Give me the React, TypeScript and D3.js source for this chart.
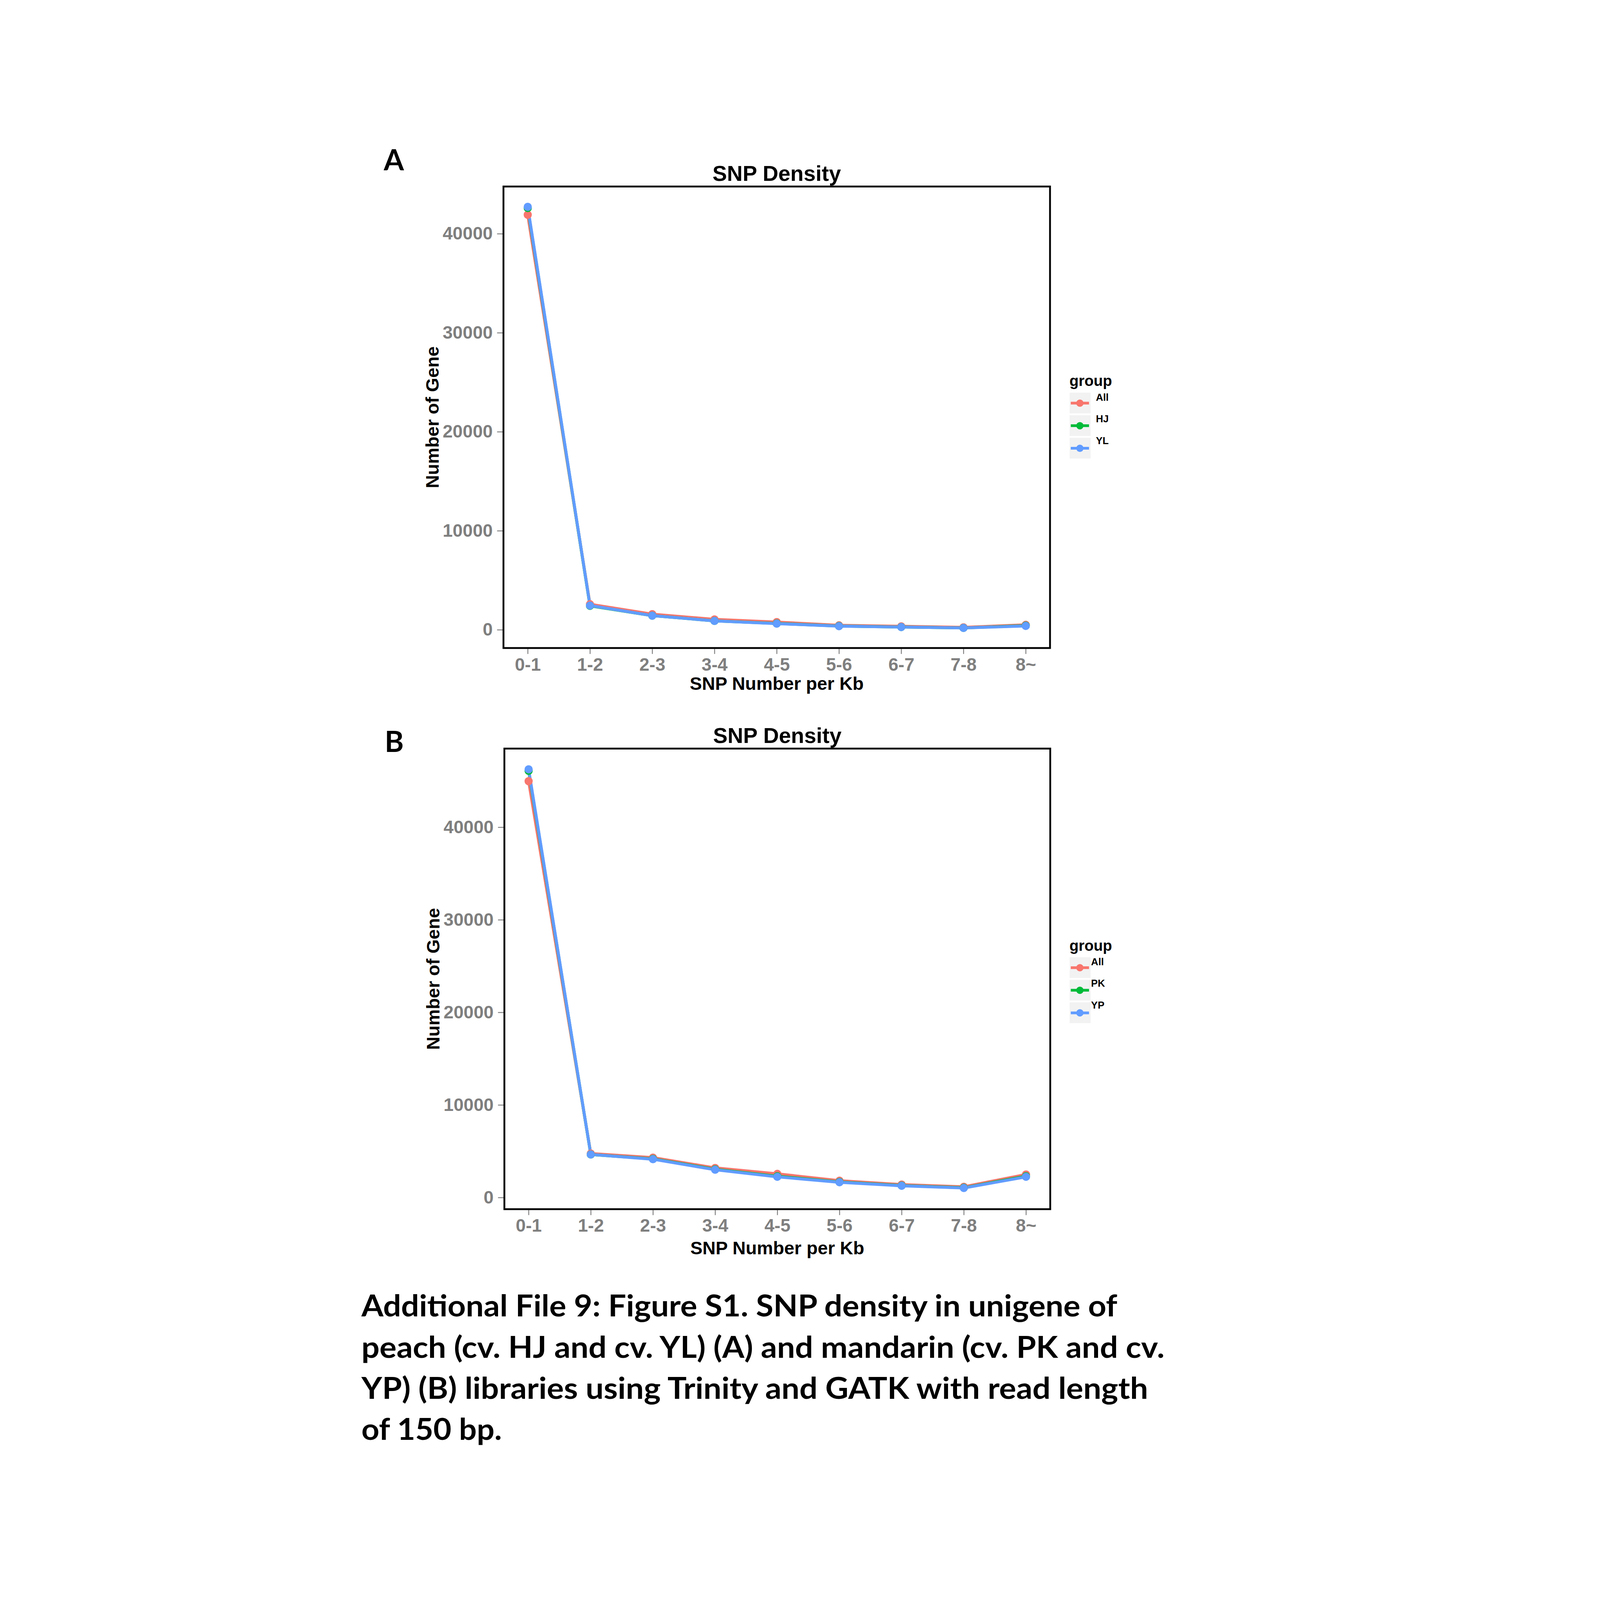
import { useEffect, useRef } from 'react';
import * as d3 from 'd3';

// categories on the x axis
const categories = ['0-1', '1-2', '2-3', '3-4', '4-5', '5-6', '6-7', '7-8', '8~'];
const yTicks = [0, 10000, 20000, 30000, 40000];

// panel A: peach
const peachGroups = ['All', 'HJ', 'YL'];
const peachAll = [41920, 2580, 1580, 1050, 780, 450, 350, 250, 500];
const peachHJ = [42600, 2420, 1430, 900, 640, 380, 280, 190, 420];
const peachYL = [42720, 2450, 1430, 900, 620, 370, 275, 185, 390];

// panel B: mandarin
const mandarinGroups = ['All', 'PK', 'YP'];
const mandarinAll = [44980, 4750, 4310, 3200, 2560, 1820, 1400, 1160, 2490];
const mandarinPK = [46100, 4650, 4180, 3050, 2300, 1690, 1300, 1060, 2300];
const mandarinYP = [46260, 4655, 4140, 3005, 2240, 1650, 1270, 1030, 2240];

const groupColors = ['#F8766D', '#00BA38', '#619CFF'];

const captionLines = [
  'Additional File 9: Figure S1. SNP density in unigene of',
  'peach (cv. HJ and cv. YL) (A) and mandarin (cv. PK and cv.',
  'YP) (B) libraries using Trinity and GATK with read length',
  'of 150 bp.',
];
const captionWidths = [3315, 3522, 3450, 616];

const W = 4961;
const H = 7017;
const FONT = '"Liberation Sans", Arial, Helvetica, sans-serif';
const CAP_FONT = 'Lato, "Open Sans", sans-serif';
const GREY = '#7F7F7F';

const panels = [
  {
    letter: 'A', letterY: 747, letterX: 655,
    left: 1180, right: 3577, top: 818, bottom: 2842,
    yDomain: [-1842, 44772],
    xTitleOffset: 184,
    series: [peachAll, peachHJ, peachYL], groups: peachGroups,
    legendY: 0, legendLabelX: 3778,
  },
  {
    letter: 'B', letterY: 3298, letterX: 659,
    left: 1184, right: 3578, top: 3283, bottom: 5303,
    yDomain: [-1256, 48498],
    xTitleOffset: 198,
    series: [mandarinAll, mandarinPK, mandarinYP], groups: mandarinGroups,
    legendY: 2476, legendLabelX: 3757,
  },
];

const App = () => {
  const svgRef = useRef<SVGSVGElement>(null);

  useEffect(() => {
    const svg = d3.select(svgRef.current);
    svg.selectAll('*').remove();

    svg.append('rect').attr('width', W).attr('height', H).attr('fill', '#ffffff');

    panels.forEach(p => {
      const g = svg.append('g');

      const x = d3.scalePoint<string>()
        .domain(categories)
        .range([p.left, p.right])
        .padding(0.39);

      const y = d3.scaleLinear()
        .domain(p.yDomain)
        .range([p.bottom, p.top]);

      // panel letter
      svg.append('text')
        .attr('x', p.letterX)
        .attr('y', p.letterY)
        .attr('font-family', CAP_FONT)
        .attr('font-weight', 700)
        .attr('font-size', 127)
        .attr('fill', '#000')
        .text(p.letter);

      // title
      g.append('text')
        .attr('x', (p.left + p.right) / 2)
        .attr('y', p.top - 24)
        .attr('text-anchor', 'middle')
        .attr('font-family', FONT)
        .attr('font-weight', 700)
        .attr('font-size', 95)
        .attr('fill', '#000')
        .text('SNP Density');

      // y axis
      const yAxis = g.append('g')
        .attr('transform', `translate(${p.left},0)`)
        .call(d3.axisLeft(y).tickValues(yTicks).tickSize(28).tickPadding(19).tickFormat(d3.format('d')));
      yAxis.select('.domain').remove();
      yAxis.selectAll('line').attr('stroke', GREY).attr('stroke-width', 4);
      yAxis.selectAll('text')
        .attr('font-family', FONT)
        .attr('font-weight', 700)
        .attr('font-size', 79)
        .attr('fill', GREY);

      // x axis
      const xAxis = g.append('g')
        .attr('transform', `translate(0,${p.bottom + 4})`)
        .call(d3.axisBottom(x).tickSize(22).tickPadding(17));
      xAxis.select('.domain').remove();
      xAxis.selectAll('line').attr('stroke', GREY).attr('stroke-width', 4);
      xAxis.selectAll('text')
        .attr('font-family', FONT)
        .attr('font-weight', 700)
        .attr('font-size', 79)
        .attr('fill', GREY);

      // axis titles
      g.append('text')
        .attr('x', (p.left + p.right) / 2)
        .attr('y', p.bottom + p.xTitleOffset)
        .attr('text-anchor', 'middle')
        .attr('font-family', FONT)
        .attr('font-weight', 700)
        .attr('font-size', 80)
        .attr('fill', '#000')
        .text('SNP Number per Kb');

      g.append('text')
        .attr('transform', `translate(${p.left - 285},${(p.top + p.bottom) / 2}) rotate(-90)`)
        .attr('text-anchor', 'middle')
        .attr('font-family', FONT)
        .attr('font-weight', 700)
        .attr('font-size', 80)
        .attr('fill', '#000')
        .text('Number of Gene');

      // lines then points (ggplot layer order)
      const line = d3.line<number>()
        .x((d, i) => x(categories[i]) as number)
        .y(d => y(d));

      p.series.forEach((values, k) => {
        g.append('path')
          .datum(values)
          .attr('fill', 'none')
          .attr('stroke', groupColors[k])
          .attr('stroke-width', 13)
          .attr('stroke-linejoin', 'round')
          .attr('d', line);
      });

      p.series.forEach((values, k) => {
        g.selectAll(`.pt-${k}`)
          .data(values)
          .enter()
          .append('circle')
          .attr('class', `pt-${k}`)
          .attr('cx', (d, i) => x(categories[i]) as number)
          .attr('cy', d => y(d))
          .attr('r', 18)
          .attr('fill', groupColors[k]);
      });

      // panel border
      g.append('rect')
        .attr('x', p.left)
        .attr('y', p.top)
        .attr('width', p.right - p.left)
        .attr('height', p.bottom - p.top)
        .attr('fill', 'none')
        .attr('stroke', '#000')
        .attr('stroke-width', 8);

      // legend
      const lg = g.append('g').attr('transform', `translate(0,${p.legendY})`);
      lg.append('text')
        .attr('x', 3662)
        .attr('y', 1693)
        .attr('font-family', FONT)
        .attr('font-weight', 700)
        .attr('font-size', 66)
        .attr('fill', '#000')
        .text('group');

      const keyTops = [1722, 1821, 1920];
      const labelBase = [1757, 1852, 1947];
      p.groups.forEach((name, k) => {
        const cy = keyTops[k] + 46;
        lg.append('rect')
          .attr('x', 3663)
          .attr('y', keyTops[k])
          .attr('width', 92)
          .attr('height', 91)
          .attr('fill', '#F2F2F2');
        lg.append('line')
          .attr('x1', 3668)
          .attr('x2', 3748)
          .attr('y1', cy)
          .attr('y2', cy)
          .attr('stroke', groupColors[k])
          .attr('stroke-width', 12);
        lg.append('circle')
          .attr('cx', 3708)
          .attr('cy', cy)
          .attr('r', 16)
          .attr('fill', groupColors[k]);
        lg.append('text')
          .attr('x', p.legendLabelX)
          .attr('y', labelBase[k])
          .attr('font-family', FONT)
          .attr('font-weight', 700)
          .attr('font-size', 44)
          .attr('fill', '#000')
          .text(name);
      });
    });

    // caption
    captionLines.forEach((t, i) => {
      svg.append('text')
        .attr('x', 557)
        .attr('y', 5774 + i * 180)
        .attr('font-family', CAP_FONT)
        .attr('font-weight', 700)
        .attr('font-size', 132)
        .attr('fill', '#000')
        .attr('textLength', captionWidths[i])
        .attr('lengthAdjust', 'spacingAndGlyphs')
        .text(t);
    });

    return () => {
      d3.select(svgRef.current).selectAll('*').remove();
    };
  }, []);

  // fit the whole page into the window, whatever its size
  return (
    <svg
      ref={svgRef}
      viewBox={`0 0 ${W} ${H}`}
      preserveAspectRatio="xMidYMid meet"
      style={{ position: 'absolute', left: 0, top: 0, width: '100vw', height: '100vh', display: 'block' }}
    />
  );
};

export default App;
